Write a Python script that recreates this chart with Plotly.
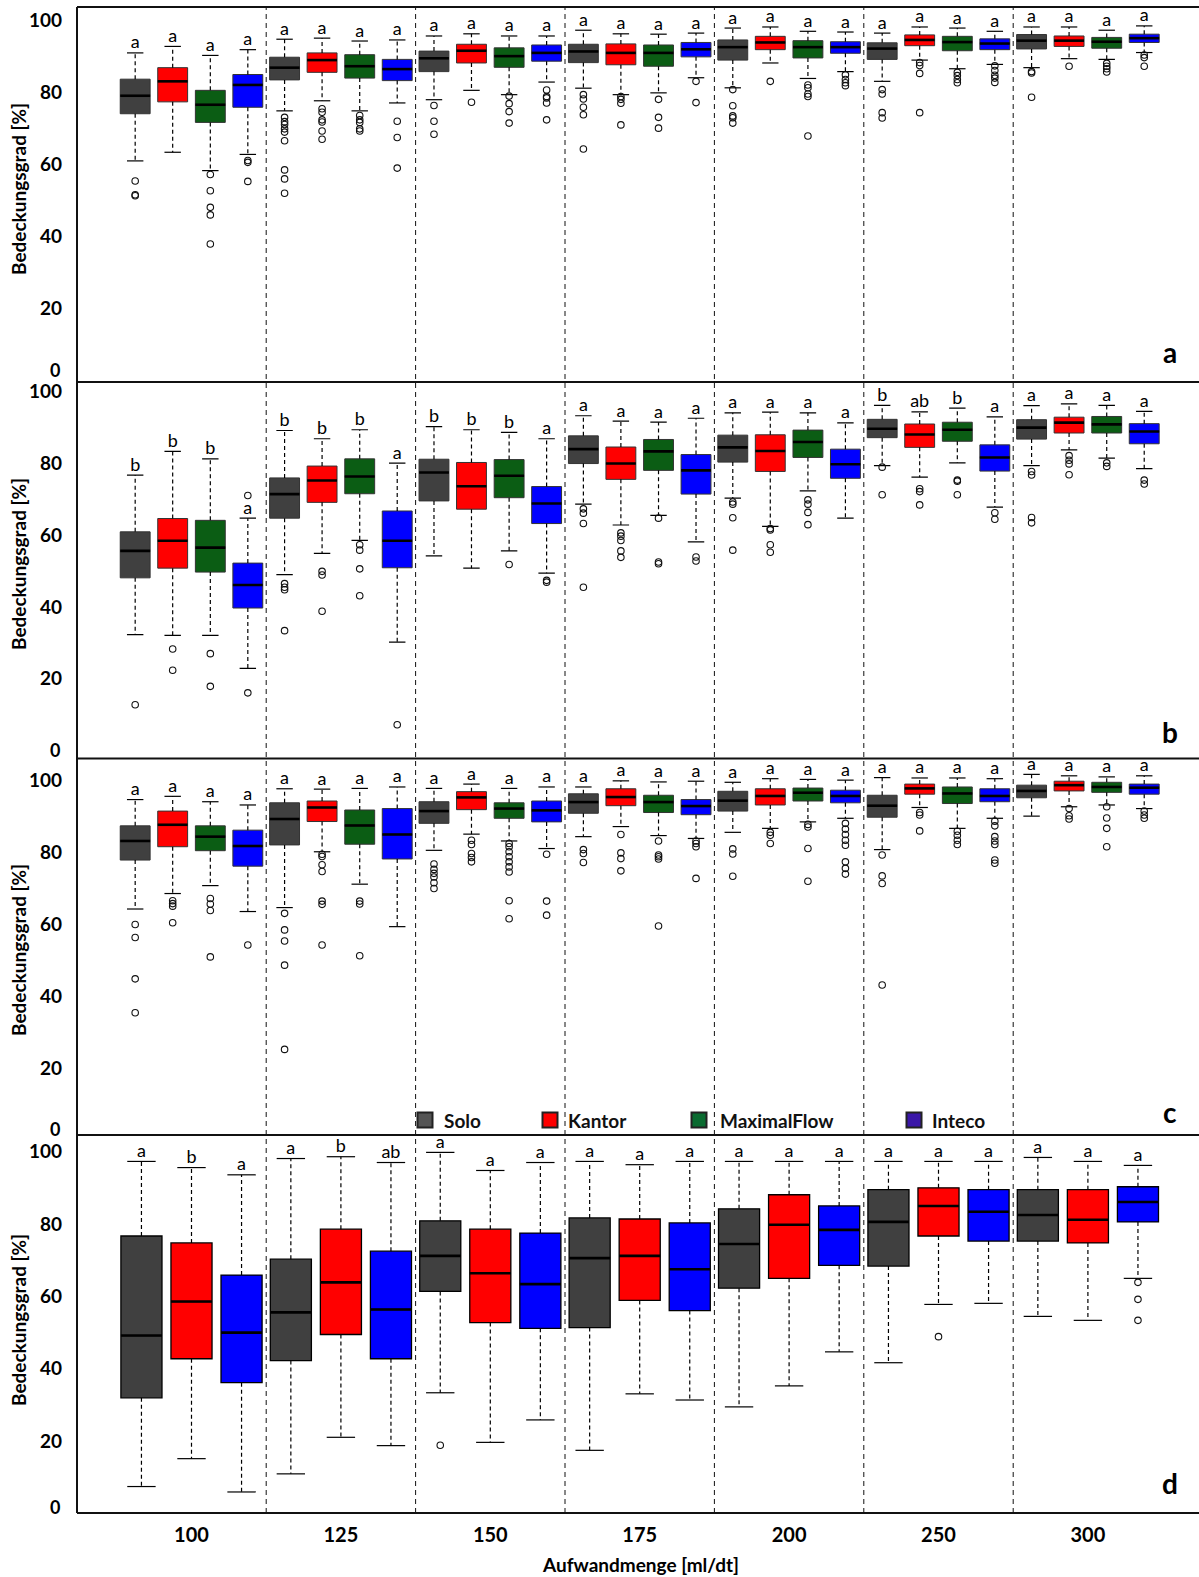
import plotly.graph_objects as go

# ---------------------------------------------------------------------------
# Data: coverage (Bedeckungsgrad, %) per application rate and nozzle
# ---------------------------------------------------------------------------
DOSES = ["100", "125", "150", "175", "200", "250", "300"]
SERIES_ABC = ["Solo", "Kantor", "MaximalFlow", "Inteco"]
SERIES_D = ["Solo", "Kantor", "Inteco"]

# Panel a  (rows: Solo, Kantor, MaximalFlow, Inteco; columns: doses)
a_upper = [[91.0, 94.8, 95.7, 97.3, 97.9, 96.5, 98.2],
           [92.8, 95.1, 96.3, 96.3, 98.2, 98.2, 98.2],
           [90.3, 94.3, 95.7, 96.2, 97.0, 97.9, 97.3],
           [91.9, 94.6, 95.7, 96.5, 96.8, 97.0, 98.5]]
a_q3 = [[83.7, 89.8, 91.5, 93.4, 94.6, 93.8, 96.1],
        [86.9, 91.0, 93.4, 93.5, 95.6, 96.0, 95.7],
        [80.6, 90.5, 92.4, 93.2, 94.4, 95.6, 95.3],
        [85.0, 89.2, 93.2, 93.9, 94.1, 94.9, 96.2]]
a_median = [[79.1, 86.9, 89.5, 91.4, 92.6, 92.2, 94.4],
            [83.1, 89.0, 91.6, 91.0, 93.9, 94.6, 94.4],
            [76.6, 87.3, 90.1, 91.0, 92.6, 94.0, 94.1],
            [82.1, 86.5, 91.0, 92.0, 92.6, 93.6, 95.1]]
a_q1 = [[74.1, 83.5, 85.8, 88.3, 89.0, 89.2, 92.1],
        [77.4, 85.6, 88.2, 87.7, 91.9, 93.0, 92.8],
        [71.7, 84.0, 87.0, 87.3, 89.6, 91.6, 92.3],
        [75.9, 83.3, 88.7, 89.9, 90.9, 91.9, 93.9]]
a_lower = [[61.0, 74.9, 78.0, 81.2, 81.3, 83.1, 86.9],
           [63.4, 77.7, 80.6, 79.4, 88.2, 89.0, 89.4],
           [58.3, 74.9, 79.4, 79.9, 83.9, 86.6, 89.2],
           [62.8, 77.1, 82.9, 84.1, 85.8, 87.8, 91.1]]
a_outliers = [
    [[55.4, 51.6, 51.3], [73.1, 71.9, 71.1, 69.9, 69.0, 66.6, 58.5, 56.0, 52.0],
     [76.4, 72.0, 68.4], [79.4, 78.2, 75.9, 73.8, 64.3], [80.8, 76.3, 73.5, 73.0, 71.5],
     [80.8, 79.6, 74.4, 72.9], [85.8, 85.4, 78.7]],
    [[], [75.5, 74.5, 72.4, 71.8, 69.3, 67.0], [77.3], [78.9, 78.1, 77.0, 71.0], [83.1],
     [88.3, 87.5, 85.3, 74.4], [87.3]],
    [[57.2, 52.7, 48.1, 46.0, 37.9], [73.6, 72.4, 71.7, 69.9, 69.3], [79.0, 76.9, 74.7, 71.5],
     [78.1, 73.1, 70.1], [82.1, 81.3, 79.6, 78.9, 67.9], [85.6, 84.7, 83.6, 82.7],
     [88.1, 87.3, 86.6, 85.7]],
    [[61.1, 60.6, 55.3], [72.0, 67.5, 59.0], [80.7, 78.9, 78.5, 77.1, 72.4], [83.1, 77.2],
     [84.9, 83.6, 82.7, 81.9], [87.4, 86.1, 84.8, 84.0, 82.8], [90.4, 89.7, 87.3]],
]
a_letters = [["a"] * 7, ["a"] * 7, ["a"] * 7, ["a"] * 7]

# Panel b
b_upper = [[76.7, 89.1, 90.2, 93.2, 94.0, 96.1, 96.0],
           [83.3, 86.8, 89.3, 91.7, 94.2, 94.3, 96.5],
           [81.2, 89.3, 88.6, 91.4, 94.0, 95.3, 96.1],
           [64.7, 80.0, 86.8, 92.5, 91.2, 92.9, 94.4]]
b_q3 = [[60.9, 75.9, 81.1, 87.6, 87.8, 92.2, 92.1],
        [64.6, 79.2, 80.2, 84.5, 87.9, 90.9, 92.8],
        [64.1, 81.2, 81.0, 86.6, 89.2, 91.4, 93.0],
        [52.2, 66.7, 73.5, 82.4, 83.9, 85.1, 91.0]]
b_median = [[55.6, 71.4, 77.4, 83.9, 84.4, 89.6, 89.9],
            [58.4, 75.2, 73.6, 79.9, 83.4, 88.0, 91.3],
            [56.5, 76.3, 76.5, 83.3, 85.9, 89.3, 90.8],
            [46.1, 58.4, 68.8, 78.0, 79.7, 81.6, 88.8]]
b_q1 = [[48.1, 64.7, 69.5, 79.9, 80.3, 87.1, 86.7],
        [50.8, 69.1, 67.2, 75.5, 77.7, 84.4, 88.4],
        [49.7, 71.5, 70.4, 78.0, 81.6, 86.1, 88.4],
        [39.7, 50.9, 63.2, 71.4, 75.8, 77.8, 85.4]]
b_lower = [[32.3, 49.0, 54.2, 68.6, 70.3, 79.3, 79.3],
           [32.1, 54.9, 50.8, 62.8, 62.4, 76.1, 83.7],
           [32.1, 58.5, 55.6, 65.5, 72.3, 80.1, 81.4],
           [22.9, 30.2, 49.4, 58.1, 64.7, 67.8, 78.5]]
b_outliers = [
    [[12.8], [46.5, 45.5, 44.8, 33.4], [], [67.3, 66.1, 63.2, 45.5], [69.2, 68.6, 64.8, 55.8],
     [78.9, 71.2], [77.7, 76.7, 64.9, 63.4]],
    [[28.3, 22.4], [49.9, 48.9, 38.8], [], [60.6, 59.7, 58.5, 55.6, 53.8], [61.8, 61.4, 57.3, 55.2],
     [72.9, 72.1, 68.4], [82.1, 80.8, 79.8, 76.8]],
    [[27.0, 17.9], [57.3, 55.8, 50.6, 43.1], [51.8], [64.7, 52.5, 52.0], [69.8, 68.6, 66.3, 62.9],
     [75.3, 75.0, 71.2], [80.1, 79.1]],
    [[71.0, 16.1], [7.2], [47.4, 46.9], [53.9, 52.8], [], [66.2, 64.4], [75.3, 74.2]],
]
b_letters = [["b", "b", "b", "a", "a", "b", "a"],
             ["b", "b", "b", "a", "a", "ab", "a"],
             ["b", "b", "b", "a", "a", "b", "a"],
             ["a", "a", "a", "a", "a", "a", "a"]]

# Panel c
c_upper = [[92.9, 95.9, 96.0, 96.4, 97.7, 99.0, 99.9],
           [93.8, 95.8, 97.2, 98.1, 98.7, 98.9, 99.5],
           [92.3, 96.0, 96.0, 97.8, 98.5, 98.9, 99.2],
           [91.4, 96.4, 96.4, 98.0, 98.3, 98.7, 99.5]]
c_q3 = [[85.6, 92.0, 92.3, 94.5, 95.2, 94.1, 96.9],
        [89.7, 92.5, 95.1, 95.9, 95.9, 97.2, 98.0],
        [85.6, 90.0, 92.0, 94.1, 96.1, 96.4, 97.7],
        [84.4, 90.4, 92.5, 92.9, 95.5, 95.9, 97.2]]
c_median = [[81.4, 87.5, 89.7, 92.2, 92.6, 91.2, 95.3],
            [85.9, 90.7, 93.5, 93.6, 93.9, 96.0, 96.9],
            [82.6, 85.7, 90.4, 92.2, 94.8, 94.6, 96.4],
            [80.0, 83.2, 89.9, 91.1, 93.9, 93.9, 96.2]]
c_q1 = [[76.1, 80.3, 86.3, 89.1, 89.7, 88.0, 93.4],
        [79.8, 86.8, 90.1, 91.2, 91.4, 94.4, 95.3],
        [78.7, 80.5, 87.7, 89.3, 92.5, 91.8, 94.9],
        [74.4, 76.4, 86.7, 88.7, 92.0, 92.3, 94.4]]
c_lower = [[62.5, 62.9, 78.8, 82.6, 83.8, 79.0, 88.3],
           [66.8, 78.4, 83.3, 85.4, 84.9, 90.7, 90.9],
           [69.0, 69.4, 81.4, 82.9, 86.7, 84.9, 91.4],
           [61.8, 57.6, 79.3, 82.1, 87.7, 87.7, 90.4]]
c_outliers = [
    [[58.2, 54.6, 43.1, 33.7], [61.3, 56.7, 53.6, 46.9, 23.5], [75.0, 73.5, 72.4, 71.4, 69.8, 68.2],
     [79.0, 77.9, 75.4], [79.2, 77.8, 71.6], [77.5, 71.7, 69.6, 41.4], []],
    [[64.8, 64.0, 63.3, 58.7], [77.7, 77.1, 74.8, 72.9, 64.7, 63.8, 52.5], [81.6, 80.4, 77.9, 76.8, 75.6],
     [83.2, 78.1, 76.5, 73.1], [83.8, 83.0, 80.7], [89.3, 88.6, 84.2], [90.4, 88.4, 87.5]],
    [[65.4, 63.9, 62.1, 49.2], [64.7, 63.9, 49.5], [80.7, 79.8, 78.4, 77.0, 75.6, 74.2, 72.8, 64.8, 59.8],
     [81.4, 77.5, 77.0, 76.4, 57.8], [86.0, 85.3, 79.3, 70.2], [84.1, 83.0, 81.6, 80.4],
     [90.9, 87.8, 84.9, 79.8]],
    [[52.5], [], [77.7, 64.7, 60.8], [81.4, 80.7, 79.8, 71.0],
     [86.3, 84.7, 83.2, 81.6, 80.2, 75.6, 73.8, 72.2], [86.9, 85.6, 82.6, 81.4, 80.4, 76.1, 75.2],
     [89.7, 88.6, 87.7]],
]
c_letters = [["a"] * 7, ["a"] * 7, ["a"] * 7, ["a"] * 7]

# Panel d  (rows: Solo, Kantor, Inteco)
d_upper = [[96.7, 97.5, 99.2, 96.7, 96.7, 96.7, 97.8],
           [95.0, 98.0, 94.2, 95.8, 96.7, 96.7, 96.7],
           [93.0, 96.4, 96.4, 96.7, 96.7, 96.7, 95.6]]
d_q3 = [[76.1, 69.7, 80.3, 81.1, 83.6, 88.9, 88.9],
        [74.2, 78.0, 78.0, 80.8, 87.5, 89.4, 88.9],
        [65.3, 71.9, 76.9, 79.7, 84.4, 88.9, 89.7]]
d_median = [[48.6, 55.0, 70.6, 70.0, 73.9, 80.0, 81.9],
            [58.0, 63.3, 65.8, 70.6, 79.2, 84.4, 80.6],
            [49.4, 55.8, 62.8, 66.9, 77.8, 82.8, 85.5]]
d_q1 = [[31.4, 41.7, 60.8, 50.8, 61.7, 67.8, 74.7],
        [42.2, 48.9, 52.2, 58.3, 64.4, 76.1, 74.2],
        [35.6, 42.2, 50.6, 55.5, 68.0, 74.7, 80.0]]
d_lower = [[6.9, 10.4, 32.8, 16.9, 28.9, 41.1, 53.9],
           [14.6, 20.5, 19.1, 32.5, 34.7, 57.2, 52.8],
           [5.4, 18.2, 25.3, 30.8, 44.1, 57.5, 64.4]]
d_outliers = [
    [[], [], [18.3], [], [], [], []],
    [[], [], [], [], [], [48.3], []],
    [[], [], [], [], [], [], [63.3, 58.6, 52.8]],
]
d_letters = [["a", "a", "a", "a", "a", "a", "a"],
             ["b", "b", "a", "a", "a", "a", "a"],
             ["a", "ab", "a", "a", "a", "a", "a"]]

PANEL_TAGS = ["a", "b", "c", "d"]
FILL = {"Solo": "#404040", "Kantor": "#ff0000", "MaximalFlow": "#0b5d14", "Inteco": "#0000ff"}
KEY_FILL = {"Solo": "#555555", "Kantor": "#ff0000", "MaximalFlow": "#0a6b30", "Inteco": "#3a16a8"}

# ---------------------------------------------------------------------------
# Page geometry (pixels)
# ---------------------------------------------------------------------------
W, H = 1199, 1577
ML, MR, MT, MB = 77, 0, 7, 64
PW, PH = W - ML - MR, H - MT - MB
BOTTOM = H - MB
X0_PX, X_STEP = 191.5, 149.4          # pixel of first group centre, group spacing
X_RANGE = [(ML - X0_PX) / X_STEP, (W - MR - X0_PX) / X_STEP]

# per panel: top px, bottom px, y range, tick-label shift (positive = down)
PANELS = [
    dict(top=7, bottom=382, yr=[-0.42, 103.75], shift=0, zero_px=370, title_px=189, tag_px=352),
    dict(top=382, bottom=758.5, yr=[-2.17, 102.59], shift=0, zero_px=750, title_px=564, tag_px=732),
    dict(top=758.5, bottom=1135, yr=[-0.28, 104.31], shift=6, zero_px=1129, title_px=950, tag_px=1112),
    dict(top=1135, bottom=1513, yr=[-0.41, 104.0], shift=2, zero_px=1506.7, title_px=1320, tag_px=1483),
]


def px_x(px):
    return (px - ML) / PW


def px_y(py):
    return (BOTTOM - py) / PH


FONT = "Lato, 'Open Sans', sans-serif"
fig = go.Figure()


def add_panel(yref, names, lower, q1, med, q3, upper, outl, letters,
              offsets, box_w, cap_w, edge, edge_w):
    n = len(DOSES)
    for i, name in enumerate(names):
        xs = [k + offsets[i] for k in range(n)]
        wx, wy, cx, cy, mx, my = [], [], [], [], [], []
        for k, x in enumerate(xs):
            wx += [x, x, None, x, x, None]
            wy += [q3[i][k], upper[i][k], None, q1[i][k], lower[i][k], None]
            cx += [x - cap_w / 2, x + cap_w / 2, None, x - cap_w / 2, x + cap_w / 2, None]
            cy += [upper[i][k], upper[i][k], None, lower[i][k], lower[i][k], None]
            mx += [x - box_w / 2, x + box_w / 2, None]
            my += [med[i][k], med[i][k], None]
        # dashed whiskers and solid caps
        fig.add_trace(go.Scatter(x=wx, y=wy, mode="lines", yaxis=yref, xaxis="x",
                                 line=dict(color="#000", width=1.2, dash="4px,3px"),
                                 hoverinfo="skip", showlegend=False))
        fig.add_trace(go.Scatter(x=cx, y=cy, mode="lines", yaxis=yref, xaxis="x",
                                 line=dict(color="#000", width=1.2),
                                 hoverinfo="skip", showlegend=False))
        # boxes (interquartile range)
        fig.add_trace(go.Box(x=xs, q1=q1[i], median=med[i], q3=q3[i],
                             lowerfence=q1[i], upperfence=q3[i], width=box_w, whiskerwidth=0,
                             fillcolor=FILL[name], line=dict(color=edge, width=edge_w),
                             boxpoints=False, yaxis=yref, xaxis="x", name=name,
                             hoverinfo="skip", showlegend=False))
        # heavy median bars
        fig.add_trace(go.Scatter(x=mx, y=my, mode="lines", yaxis=yref, xaxis="x",
                                 line=dict(color="#000", width=2.6),
                                 hoverinfo="skip", showlegend=False))
        # outliers
        ox, oy = [], []
        for k, x in enumerate(xs):
            for v in outl[i][k]:
                ox.append(x)
                oy.append(v)
        fig.add_trace(go.Scatter(x=ox, y=oy, mode="markers", yaxis=yref, xaxis="x",
                                 marker=dict(symbol="circle-open", size=6.5, color="#111",
                                             line=dict(width=1.1)),
                                 hoverinfo="skip", showlegend=False))
        # significance letters above the upper whisker
        fig.add_trace(go.Scatter(x=xs, y=upper[i], mode="text", text=letters[i],
                                 textposition="top center", yaxis=yref, xaxis="x",
                                 textfont=dict(size=18, family=FONT, color="#000"),
                                 cliponaxis=False, hoverinfo="skip", showlegend=False))


OFF4 = [-0.377, -0.126, 0.126, 0.377]
OFF3 = [-0.335, 0.0, 0.335]
add_panel("y", SERIES_ABC, a_lower, a_q1, a_median, a_q3, a_upper, a_outliers, a_letters,
          OFF4, 0.2, 0.11, "#333", 1)
add_panel("y2", SERIES_ABC, b_lower, b_q1, b_median, b_q3, b_upper, b_outliers, b_letters,
          OFF4, 0.2, 0.11, "#333", 1)
add_panel("y3", SERIES_ABC, c_lower, c_q1, c_median, c_q3, c_upper, c_outliers, c_letters,
          OFF4, 0.2, 0.11, "#333", 1)
add_panel("y4", SERIES_D, d_lower, d_q1, d_median, d_q3, d_upper, d_outliers, d_letters,
          OFF3, 0.275, 0.19, "#000", 1.3)

layout = dict(
    width=W, height=H, margin=dict(l=ML, r=MR, t=MT, b=MB),
    plot_bgcolor="white", paper_bgcolor="white", showlegend=False,
    font=dict(family=FONT, color="#000"),
    xaxis=dict(range=X_RANGE, tickvals=list(range(len(DOSES))), ticktext=DOSES,
               anchor="y4", showgrid=False, zeroline=False, showline=False, ticks="",
               tickfont=dict(size=20, family=FONT, weight="bold", color="#000"),
               ticklabelstandoff=8),
)
annotations, shapes = [], []
for p, spec in enumerate(PANELS):
    key = "yaxis" if p == 0 else f"yaxis{p + 1}"
    layout[key] = dict(
        domain=[px_y(spec["bottom"]), px_y(spec["top"])], range=spec["yr"], anchor="x",
        tickvals=[20, 40, 60, 80, 100], showgrid=False, zeroline=False, showline=False,
        ticks="", ticklabelstandoff=14, ticklabelshift=spec["shift"],
        tickfont=dict(size=19, family=FONT, weight="bold", color="#000"),
    )
    # the zero label sits just above the panel's bottom rule
    annotations.append(dict(text="<b>0</b>", xref="paper", yref="paper", x=px_x(62),
                            y=px_y(spec["zero_px"]), xanchor="right", yanchor="middle",
                            showarrow=False, font=dict(size=18, family=FONT, color="#000")))
    annotations.append(dict(text="<b>Bedeckungsgrad [%]</b>", xref="paper", yref="paper",
                            x=px_x(18), y=px_y(spec["title_px"]), textangle=-90,
                            xanchor="center", yanchor="middle", showarrow=False,
                            font=dict(size=19, family=FONT, color="#000")))
    annotations.append(dict(text=f"<b>{PANEL_TAGS[p]}</b>", xref="paper", yref="paper",
                            x=px_x(1170), y=px_y(spec["tag_px"]), xanchor="center",
                            yanchor="middle", showarrow=False,
                            font=dict(size=28, family=FONT, color="#000")))
    # horizontal rule at the top of each panel
    shapes.append(dict(type="line", xref="paper", yref="paper", x0=0, x1=1,
                       y0=px_y(spec["top"]), y1=px_y(spec["top"]),
                       line=dict(color="#111", width=2)))

# bottom rule and left axis line
shapes.append(dict(type="line", xref="paper", yref="paper", x0=0, x1=1, y0=0, y1=0,
                   line=dict(color="#111", width=2)))
shapes.append(dict(type="line", xref="paper", yref="paper", x0=0, x1=0, y0=0, y1=1,
                   line=dict(color="#111", width=2)))
# dashed separators between application rates
for k in range(len(DOSES) - 1):
    shapes.append(dict(type="line", xref="x", yref="paper", x0=k + 0.5, x1=k + 0.5,
                       y0=0, y1=1, line=dict(color="#111", width=1, dash="5px,4px"),
                       layer="below"))

annotations.append(dict(text="<b>Aufwandmenge [ml/dt]</b>", xref="paper", yref="paper",
                        x=px_x(640), y=px_y(1564), xanchor="center", yanchor="middle",
                        showarrow=False, font=dict(size=19, family=FONT, color="#000")))

# key for the nozzle colours (drawn inside panel c)
KEY_SQ = {"Solo": 425, "Kantor": 550, "MaximalFlow": 699, "Inteco": 914}
KEY_TXT = {"Solo": 442, "Kantor": 566, "MaximalFlow": 718, "Inteco": 930}
KEY_Y = 1120
for name in SERIES_ABC:
    cx = KEY_SQ[name]
    shapes.append(dict(type="rect", xref="paper", yref="paper",
                       x0=px_x(cx - 7.5), x1=px_x(cx + 7.5),
                       y0=px_y(KEY_Y + 7.5), y1=px_y(KEY_Y - 7.5),
                       fillcolor=KEY_FILL[name], line=dict(color="#222", width=2)))
    annotations.append(dict(text=f"<b>{name}</b>", xref="paper", yref="paper",
                            x=px_x(KEY_TXT[name]), y=px_y(KEY_Y), xanchor="left",
                            yanchor="middle", showarrow=False,
                            font=dict(size=19, family=FONT, color="#111")))

layout["annotations"] = annotations
layout["shapes"] = shapes
fig.update_layout(**layout)
fig.write_html("out.html")
